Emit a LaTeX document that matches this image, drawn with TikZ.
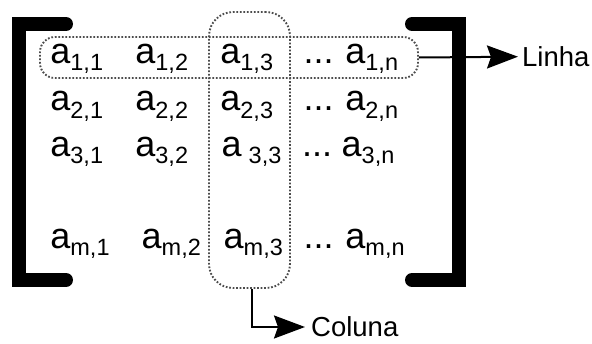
\documentclass[tikz,border=0pt]{standalone}
\usepackage{fontspec}
\setmainfont{Liberation Sans}
\usetikzlibrary{arrows.meta}
\newcommand\subsz{\fontsize{23.5}{23.5}\selectfont}
\newcommand\ment[2]{a\raisebox{-7.5pt}{\subsz #1,#2}}
\newcommand\mentsp[2]{a\hspace{7pt}\raisebox{-7.5pt}{\subsz #1,#2}}
\begin{document}
\begin{tikzpicture}[x=1pt,y=-1pt,
  entry/.style={anchor=base west,inner sep=0pt,font=\fontsize{36}{36}\selectfont},
  lbl/.style={anchor=west,inner ysep=0pt,inner xsep=4pt,font=\fontsize{27.5}{27.5}\selectfont},
  bracket/.style={line width=14pt,line cap=round,line join=miter},
  selbox/.style={draw=black!70,line width=1.9pt,dash pattern=on 1.7pt off 1.8pt,inner sep=0pt},
  conn/.style={line width=2pt,-{Stealth[length=31pt,width=23pt,inset=4pt]}}]
\useasboundingbox (0,0) rectangle (592,343);
% brackets
\draw[bracket] (66,24) -- (18.5,24) -- (18.5,280) -- (66,280);
\draw[bracket] (412,24) -- (458.5,24) -- (458.5,280) -- (412,280);
% row 1
\node[entry] (e11) at (50.2,63) {\ment{1}{1}};
\node[entry] (e12) at (135.2,63) {\ment{1}{2}};
\node[entry] (e13) at (220.2,63) {\ment{1}{3}};
\node[entry] (d1) at (303.5,63) {...};
\node[entry] (e1n) at (345.2,63) {\ment{1}{n}};
% row 2
\node[entry] (e21) at (50.2,110.5) {\ment{2}{1}};
\node[entry] (e22) at (135.2,110.5) {\ment{2}{2}};
\node[entry] (e23) at (220.2,110.5) {\ment{2}{3}};
\node[entry] (d2) at (303.5,110.5) {...};
\node[entry] (e2n) at (345.2,110.5) {\ment{2}{n}};
% row 3
\node[entry] (e31) at (50.2,156) {\ment{3}{1}};
\node[entry] (e32) at (135.2,156) {\ment{3}{2}};
\node[entry] (e33) at (221.5,156) {\mentsp{3}{3}};
\node[entry] (d3) at (302,156) {...};
\node[entry] (e3n) at (341.5,156) {\ment{3}{n}};
% row m
\node[entry] (em1) at (50.2,248) {\ment{m}{1}};
\node[entry] (em2) at (141.5,248) {\ment{m}{2}};
\node[entry] (em3) at (223.5,248) {\ment{m}{3}};
\node[entry] (dm) at (303.5,248) {...};
\node[entry] (emn) at (345.2,248) {\ment{m}{n}};
% selection boxes
\node[selbox,rounded corners=15pt,minimum width=378pt,minimum height=41pt] (rowsel) at (229,57.5) {};
\node[selbox,rounded corners=24pt,minimum width=81pt,minimum height=276pt] (colsel) at (249.5,150) {};
% labels
\node[lbl,inner xsep=4pt] (linha) at (518,56.7) {Linha};
\node[lbl,inner xsep=6pt] (coluna) at (305,327) {Coluna};
% connectors
\draw[conn] (rowsel.east) -- (linha.west);
\draw[conn] ([xshift=2pt]colsel.south) |- (coluna.west);
\end{tikzpicture}
\end{document}
